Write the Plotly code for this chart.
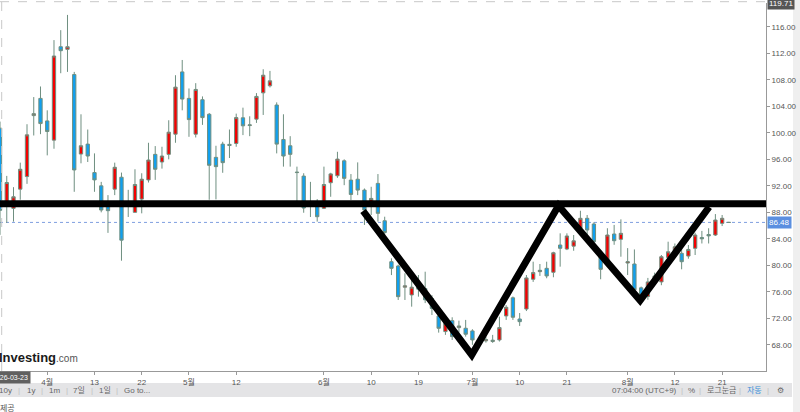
import pandas as pd
import plotly.graph_objects as go

# ---------------- data ----------------
holidays = ["2026-04-03", "2026-05-25"]
dates = [d.strftime("%Y-%m-%d") for d in pd.bdate_range("2026-03-23", "2026-08-24")
         if d.strftime("%Y-%m-%d") not in holidays]

open_ = [100.7, 89.0, 88.6, 91.5, 93.4, 102.6, 105.2, 101.8, 98.9, 113.0,
         112.6, 108.8, 96.8, 98.3, 94.0, 92.0, 89.1, 91.5, 93.3, 89.5,
         88.0, 90.0, 92.9, 96.75, 95.6, 96.75, 99.8, 109.2, 105.2, 99.8,
         105.0, 102.8, 96.3, 98.3, 98.26, 98.4, 102.27, 101.1, 102.07, 106.04,
         107.1, 104.2, 99.0, 98.05, 94.0, 93.47, 89.5, 88.9, 88.6, 92.47,
         93.52, 95.78, 92.87, 93.0, 91.36, 89.6, 92.37, 86.73, 80.55, 79.9,
         76.7, 75.53, 77.0, 76.5, 75.0, 72.36, 70.0, 71.65, 70.6, 70.5,
         70.1, 68.2, 68.6, 68.5, 68.74, 72.36, 75.1, 71.9, 73.4, 77.9,
         79.05, 79.55, 78.95, 83.07, 82.46, 82.9, 85.59, 87.1, 86.24, 81.4,
         80.8, 84.73, 83.93, 80.35, 80.2, 76.6, 75.3, 77.45, 77.5, 81.2,
         81.9, 81.82, 81.4, 82.57, 84.2, 84.65, 84.58, 86.34, 86.48]
high = [101.7, 93.5, 91.8, 95.5, 101.3, 105.4, 107.0, 103.4, 114.0, 115.5,
        117.8, 109.2, 102.8, 100.5, 96.9, 92.6, 90.6, 95.5, 94.0, 91.4,
        94.5, 93.9, 98.5, 98.0, 97.9, 101.9, 108.7, 111.0, 106.7, 107.5,
        105.5, 103.0, 98.05, 98.65, 100.5, 102.9, 103.8, 102.5, 106.0, 109.6,
        109.35, 104.6, 102.8, 99.5, 94.9, 93.9, 92.6, 90.0, 94.9, 93.97,
        97.14, 96.0, 93.78, 95.54, 91.6, 91.86, 93.78, 87.34, 81.06, 80.1,
        78.8, 77.8, 78.54, 79.04, 75.5, 73.0, 71.86, 72.16, 71.65, 71.76,
        70.35, 69.0, 69.24, 69.5, 72.25, 74.0, 75.3, 72.8, 78.54, 80.55,
        80.2, 80.55, 82.05, 84.83, 84.83, 84.58, 88.24, 87.6, 86.5, 82.05,
        85.6, 86.1, 86.94, 82.6, 82.4, 76.8, 78.1, 78.9, 81.56, 83.57,
        83.3, 83.07, 83.07, 84.92, 85.2, 85.6, 87.74, 87.6, 86.5]
low = [84.6, 86.4, 86.6, 89.9, 92.3, 99.6, 99.8, 96.6, 97.6, 109.0,
       109.2, 91.1, 95.4, 95.6, 91.1, 88.0, 84.9, 90.6, 80.7, 87.3,
       88.0, 87.85, 92.5, 92.9, 94.6, 96.0, 98.5, 103.4, 99.4, 99.3,
       101.2, 89.9, 89.96, 93.97, 96.2, 97.9, 99.66, 99.5, 101.5, 102.7,
       106.85, 96.9, 94.9, 94.9, 89.5, 87.94, 87.3, 86.6, 88.5, 90.35,
       93.2, 92.1, 89.86, 90.6, 86.1, 87.6, 86.6, 84.6, 78.53, 74.77,
       74.77, 73.76, 75.27, 74.3, 72.5, 69.84, 69.5, 68.74, 69.84, 69.24,
       68.0, 67.5, 68.33, 68.3, 68.5, 71.76, 71.76, 70.85, 73.1, 77.5,
       78.4, 78.05, 78.2, 79.8, 82.3, 82.2, 85.0, 84.6, 83.3, 77.9,
       80.5, 83.1, 81.3, 78.54, 76.0, 74.8, 74.8, 77.0, 77.0, 80.7,
       81.5, 79.4, 81.0, 81.56, 83.3, 83.3, 84.43, 85.93, 86.45]
close = [88.3, 92.5, 90.35, 94.5, 99.7, 102.9, 101.4, 100.2, 111.6, 112.4,
         113.0, 94.4, 98.05, 96.5, 92.9, 88.35, 88.25, 94.8, 83.8, 89.2,
         92.2, 93.0, 95.9, 94.5, 96.5, 100.1, 106.9, 105.1, 102.0, 106.55,
         102.3, 95.1, 94.9, 95.5, 98.1, 102.3, 101.06, 101.2, 105.5, 108.7,
         107.85, 98.3, 96.5, 96.75, 94.05, 88.65, 89.0, 87.34, 92.2, 93.8,
         96.04, 93.13, 90.7, 91.36, 88.35, 90.1, 87.85, 84.95, 79.55, 75.27,
         76.9, 76.7, 76.4, 74.8, 73.5, 70.5, 71.26, 69.24, 70.85, 69.6,
         68.74, 68.5, 68.8, 68.7, 70.6, 73.67, 72.16, 71.5, 78.1, 78.9,
         79.25, 78.4, 81.9, 82.57, 84.43, 83.7, 87.1, 85.33, 83.57, 79.4,
         84.58, 83.72, 84.83, 80.55, 76.3, 75.5, 77.5, 78.4, 81.3, 82.05,
         82.8, 80.55, 82.4, 84.58, 84.0, 84.45, 86.84, 87.1, 86.48]

last_price = 86.48
top_price = "119.71"
price_ticks = [68, 72, 76, 80, 84, 88, 92, 96, 100, 104, 108, 112, 116]
date_ticks = ["2026-04-01", "2026-04-13", "2026-04-22", "2026-05-01", "2026-05-12",
              "2026-06-01", "2026-06-10", "2026-06-19", "2026-07-01", "2026-07-10",
              "2026-07-21", "2026-08-03", "2026-08-12", "2026-08-21"]
date_tick_labels = ["4월", "13", "22", "5월", "12", "6월", "10", "19", "7월", "10",
                    "21", "8월", "12", "21"]

# drawn pattern (neckline level and W points: trading-day position, price)
neckline = 89.3
w_pos = [53.8, 69.9, 82.75, 94.85, 105.07]
w_price = [88.2, 66.48, 89.0, 74.7, 88.8]

# ---------------- figure ----------------
W_PLOT = 766.0
H_PLOT = 368.0
PLOT_BOTTOM = 371.0

def px(xp):
    return xp / W_PLOT

def py(yp):
    return (PLOT_BOTTOM - yp) / H_PLOT

xs = list(range(len(dates)))
FONT = "Arial, 'Liberation Sans', 'Noto Sans CJK KR', sans-serif"

fig = go.Figure()
fig.add_trace(go.Candlestick(
    x=xs, open=open_, high=high, low=low, close=close,
    increasing=dict(fillcolor="#f50000", line=dict(color="#6f8f80", width=1)),
    decreasing=dict(fillcolor="#10a0f0", line=dict(color="#6f8f80", width=1)),
    hoverinfo="skip", showlegend=False,
))

tick_pos = [dates.index(d) for d in date_ticks]

shapes = []
shapes.append(dict(type="line", xref="paper", yref="y", x0=0, x1=1,
                   y0=last_price, y1=last_price,
                   line=dict(color="#7f9fe0", width=1, dash="dot"), layer="below"))
shapes.append(dict(type="line", xref="paper", yref="paper", x0=0, x1=1,
                   y0=py(1.7), y1=py(1.7), line=dict(color="#c8c8c8", width=1, dash="dash")))
shapes.append(dict(type="line", xref="paper", yref="paper", x0=px(1.7), x1=px(1.7),
                   y0=0, y1=py(1.7), line=dict(color="#c8c8c8", width=1, dash="dash")))
shapes.append(dict(type="line", xref="paper", yref="y", x0=0, x1=1,
                   y0=neckline, y1=neckline, line=dict(color="black", width=7)))
path = "M " + " L ".join(f"{a},{b}" for a, b in zip(w_pos, w_price))
shapes.append(dict(type="path", xref="x", yref="y", path=path,
                   line=dict(color="black", width=7)))
shapes.append(dict(type="rect", xref="paper", yref="paper", x0=px(0), x1=px(792),
                   y0=py(397), y1=py(383), fillcolor="#e4e4e6", line=dict(width=0),
                   layer="below"))
shapes.append(dict(type="rect", xref="paper", yref="paper", x0=px(793), x1=px(800),
                   y0=py(412), y1=py(0), fillcolor="#efefef", line=dict(width=0),
                   layer="below"))

ann = []
ann.append(dict(xref="paper", yref="paper", x=px(767), y=py(4), xanchor="left",
                yanchor="middle", text=top_price, showarrow=False,
                font=dict(family=FONT, size=8, color="white"), bgcolor="#555555",
                borderpad=1))
ann.append(dict(xref="paper", yref="y", x=px(767), y=last_price, xanchor="left",
                yanchor="middle", text=f"{last_price:.2f}", showarrow=False,
                font=dict(family=FONT, size=8, color="white"), bgcolor="#5b8fe0",
                borderpad=1))
ann.append(dict(xref="paper", yref="paper", x=px(31), y=py(377), xanchor="right",
                yanchor="middle", text="2026-03-23", showarrow=False,
                font=dict(family=FONT, size=7, color="white"), bgcolor="#606060",
                borderpad=2))
ann.append(dict(xref="paper", yref="paper", x=px(-3), y=py(357), xanchor="left",
                yanchor="middle", showarrow=False,
                text="<b>Investing</b><span style='font-size:10px;color:#555'>.com</span>",
                font=dict(family=FONT, size=13, color="#1a1a1a")))
left_items = [("10y", 5), ("|", 19), ("1y", 31), ("|", 42), ("1m", 54), ("|", 67),
              ("7일", 79), ("|", 92), ("1일", 105), ("|", 117), ("Go to...", 137)]
right_items = [("07:04:00 (UTC+9)", 644), ("|", 682), ("%", 691), ("|", 700),
               ("로그눈금", 721), ("|", 740), ("자동", 754.5), ("|", 768), ("⚙", 780)]
for txt, xp in left_items + right_items:
    col = "#c0c0c0" if txt == "|" else ("#3b8fd9" if txt == "자동" else "#666666")
    ann.append(dict(xref="paper", yref="paper", x=px(xp), y=py(390), xanchor="center",
                    yanchor="middle", text=txt, showarrow=False,
                    font=dict(family=FONT, size=8, color=col)))
ann.append(dict(xref="paper", yref="paper", x=px(-2), y=py(408), xanchor="left",
                yanchor="middle", text="제공", showarrow=False,
                font=dict(family=FONT, size=8, color="#555")))

fig.update_layout(
    width=800, height=412,
    margin=dict(l=0, r=34, t=3, b=41),
    paper_bgcolor="white", plot_bgcolor="white",
    font=dict(family=FONT, size=8, color="#555"),
    shapes=shapes, annotations=ann,
    hovermode=False,
    xaxis=dict(range=[0.0, 113.5], rangeslider=dict(visible=False),
               tickmode="array", tickvals=tick_pos, ticktext=date_tick_labels,
               ticks="outside", ticklen=3, tickcolor="#999", showgrid=False,
               zeroline=False, showline=True, linecolor="#999", linewidth=1,
               tickfont=dict(family=FONT, size=8, color="#555"), fixedrange=True),
    yaxis=dict(range=[64.05, 119.6], side="right", tickmode="array",
               tickvals=price_ticks, ticktext=[f"{v:.2f}" for v in price_ticks],
               ticks="outside", ticklen=3, tickcolor="#999", showgrid=False,
               zeroline=False, showline=True, linecolor="#999", linewidth=1,
               tickfont=dict(family=FONT, size=8, color="#555"), fixedrange=True),
)

fig.write_html("out.html", config={"displayModeBar": False},
               post_script="document.body.style.margin='0';document.body.style.overflow='hidden';")
